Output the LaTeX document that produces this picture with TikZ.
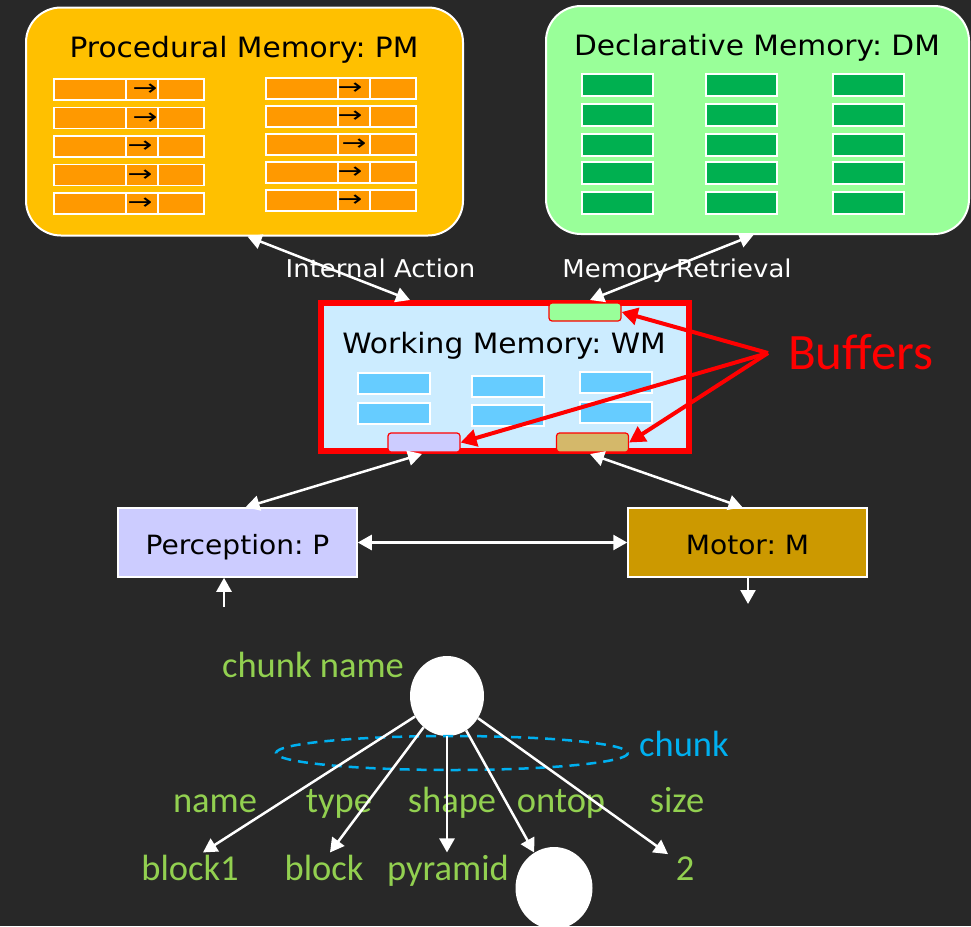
\documentclass[tikz,border=0pt]{standalone}
\usepackage{fontspec}
\setmainfont{DejaVu Sans}[FakeStretch=1.06]
\newfontfamily\calfont{Carlito}
\newfontfamily\arrowfont{DejaVu Sans}[FakeStretch=1.35]
\usetikzlibrary{arrows.meta,shapes.geometric}
\frenchspacing

\definecolor{boardgray}{RGB}{40,40,40}
\definecolor{pmyellow}{RGB}{255,192,0}
\definecolor{pmorange}{RGB}{255,153,0}
\definecolor{dmlight}{RGB}{153,255,153}
\definecolor{dmdark}{RGB}{0,176,80}
\definecolor{wmlight}{RGB}{204,236,255}
\definecolor{wmcell}{RGB}{102,204,255}
\definecolor{perclav}{RGB}{204,204,255}
\definecolor{motorgold}{RGB}{204,153,0}
\definecolor{buftan}{RGB}{212,184,106}
\definecolor{chunkgreen}{RGB}{146,208,80}
\definecolor{chunkblue}{RGB}{0,176,240}

\begin{document}
\begin{tikzpicture}[x=1pt, y=-1pt,
  membox/.style={draw=white, line width=2pt, rounded corners=35pt, inner sep=0pt},
  cell/.style={draw=white, line width=1.5pt},
  glyph/.style={font=\arrowfont\fontsize{22}{22}\selectfont, inner sep=0pt},
  title/.style={anchor=base, font=\fontsize{28}{30}\selectfont},
  tag/.style={anchor=base, text=white, font=\fontsize{24.5}{26}\selectfont},
  unit/.style={draw=white, line width=1.5pt, minimum width=239pt, minimum height=69pt,
    text height=23pt, text depth=0pt, font=\fontsize{26.5}{28}\selectfont},
  buffer/.style={draw=red, line width=1.2pt, rounded corners=3pt, minimum width=72pt,
    minimum height=19pt, inner sep=0pt},
  link/.style={draw=white, line width=2.5pt,
    {Triangle[length=14pt,width=15pt]}-{Triangle[length=14pt,width=15pt]}},
  oneway/.style={draw=white, line width=2.5pt, -{Triangle[length=14pt,width=15pt]}},
  pointer/.style={draw=red, line width=4pt, -{Triangle[length=16pt,width=17pt]}},
  slot/.style={anchor=base, inner sep=2pt, text=chunkgreen, font=\calfont\fontsize{36.5}{40}\selectfont},
  blob/.style={ellipse, fill=white, inner sep=0pt}]
\fill[boardgray] (0,0) rectangle (971,926);
\useasboundingbox (0,0) rectangle (971,926);

% procedural memory
\node[membox, fill=pmyellow, minimum width=437pt, minimum height=228pt] (pm) at (244.5,121.5) {};
\node[title] (pmtitle) at (244,57) {Procedural Memory: PM};
\foreach \y/\a [count=\i] in {79/145,107.5/145,136/140,164.5/140,193/140} {
  \draw[cell, fill=pmorange] (54,\y) rectangle +(72,21) (126,\y) rectangle +(32,21) (158,\y) rectangle +(46,21);
  \node[glyph] (ruleL\i) at (\a,\y+11) {→};
}
\foreach \y/\a [count=\i] in {78/350,106/350,134/354,162/350,190/350} {
  \draw[cell, fill=pmorange] (266,\y) rectangle +(72,21) (338,\y) rectangle +(32,21) (370,\y) rectangle +(46,21);
  \node[glyph] (ruleR\i) at (\a,\y+11) {→};
}

% declarative memory
\node[membox, fill=dmlight, minimum width=423pt, minimum height=228pt] (dm) at (757.5,120) {};
\node[title] (dmtitle) at (757,55) {Declarative Memory: DM};
\foreach \x in {582,706,833}
  \foreach \y in {74,104,134,162,192}
    \draw[cell, fill=dmdark] (\x,\y) rectangle +(71,22);

% working memory
\node[draw=red, line width=6pt, fill=wmlight, minimum width=368pt, minimum height=148pt, inner sep=0pt] (wm) at (505,377) {};
\node[title] (wmtitle) at (504,353) {Working Memory: WM};
\foreach \x/\ya/\yb in {358/373/403,472/376/405,580/372/402} {
  \draw[cell, fill=wmcell] (\x,\ya) rectangle +(72,21);
  \draw[cell, fill=wmcell] (\x,\yb) rectangle +(72,21);
}
\node[buffer, fill=dmlight, minimum height=18pt] (gbuf) at (585,312) {};
\node[buffer, fill=perclav] (pbuf) at (424,442.5) {};
\node[buffer, fill=buftan] (tbuf) at (592.5,442.5) {};

\node[unit, fill=perclav] (perc) at (237.5,542.5) {Perception: P};
\node[unit, fill=motorgold] (motor) at (747.5,542.5) {Motor: M};

\node[tag] (inact) at (380.5,277) {Internal Action};
\node[tag] (retr) at (677,277) {Memory Retrieval};

\draw[link] ([xshift=3pt]pm.south) -- ([xshift=-95pt]wm.north);
\draw[link] ([xshift=-4pt]dm.south) -- ([xshift=85pt]wm.north);
\draw[link] ([xshift=-83pt]wm.south) -- ([xshift=8pt]perc.north);
\draw[link] ([xshift=85pt]wm.south) -- ([xshift=-5pt]motor.north);
\draw[link] (perc) -- (motor);
\coordinate (sense) at (224,607);
\coordinate (act) at (748,604);
\draw[oneway] (sense) -- (sense |- perc.south);
\draw[oneway] (act |- motor.south) -- (act);

% buffers
\node[anchor=west, inner sep=0pt, text=red, font=\calfont\fontsize{51}{55}\selectfont] (bufname) at (788,352) {Buffers};
\coordinate (hub) at (768,353);
\draw[pointer] (hub) -- (gbuf.east);
\draw[pointer] (hub) -- (pbuf.east);
\draw[pointer] (hub) -- (tbuf.east);

% chunk
\node[blob, minimum width=74pt, minimum height=80pt] (root) at (447,696) {};
\node[blob, minimum width=77pt, minimum height=82pt] (obj) at (554,888) {};
\node[slot] (chname) at (313,677) {chunk name};
\draw[chunkblue, line width=2.5pt, dash pattern=on 10pt off 7pt] (452,753) ellipse (176 and 17);
\node[slot, text=chunkblue] (chlbl) at (684,756) {chunk};

\node[slot] (aname) at (215,812) {name};
\node[slot] (atype) at (339,812) {type};
\node[slot] (ashape) at (452,812) {shape};
\node[slot] (aontop) at (561,812) {ontop};
\node[slot] (asize) at (677,812) {size};

\node[slot] (vname) at (190,880) {block1};
\node[slot] (vtype) at (324,880) {block};
\node[slot] (vshape) at (448,880) {pyramid};
\node[slot] (vsize) at (685,880) {2};

\draw[oneway] (root) -- ([xshift=13pt]vname.north);
\draw[oneway] (root) -- ([xshift=6pt]vtype.north);
\draw[oneway] (root.south) -- (root.south |- vshape.north);
\draw[oneway] (root) -- (obj);
\draw[oneway] (root) -- ([xshift=-17pt]vsize.north);
\end{tikzpicture}
\end{document}
